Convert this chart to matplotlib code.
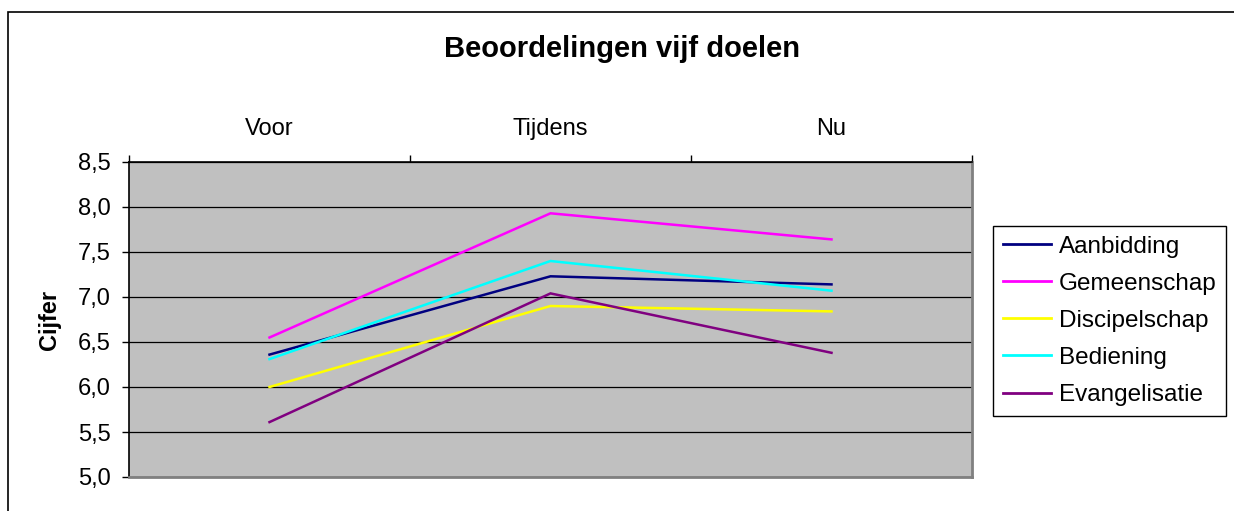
import matplotlib
matplotlib.use("Agg")
import matplotlib.pyplot as plt
from matplotlib.patches import Rectangle
from matplotlib.ticker import FuncFormatter, FixedLocator

plt.rcParams['font.family'] = ['Liberation Sans', 'DejaVu Sans']

categories = ["Voor", "Tijdens", "Nu"]
series_names = ["Aanbidding", "Gemeenschap", "Discipelschap", "Bediening", "Evangelisatie"]
aanbidding = [6.36, 7.23, 7.14]
gemeenschap = [6.55, 7.93, 7.64]
discipelschap = [6.00, 6.90, 6.84]
bediening = [6.31, 7.40, 7.07]
evangelisatie = [5.61, 7.04, 6.38]
colors = ["#000080", "#FF00FF", "#FFFF00", "#00FFFF", "#800080"]
yticks = [5.0, 5.5, 6.0, 6.5, 7.0, 7.5, 8.0, 8.5]

W, H = 1234, 511
fig = plt.figure(figsize=(W / 100, H / 100), dpi=100)
ax = fig.add_axes([129 / W, 1 - 477 / H, (972 - 129) / W, (477 - 162) / H])
ax.set_facecolor("#C0C0C0")

x = list(range(len(categories)))
for name, vals, c in zip(series_names,
                         [aanbidding, gemeenschap, discipelschap, bediening, evangelisatie],
                         colors):
    ax.plot(x, vals, color=c, lw=1.8, label=name, solid_joinstyle='miter', zorder=3)

ax.set_xlim(-0.5, len(categories) - 0.5)
ax.set_ylim(yticks[0], yticks[-1])
ax.set_yticks(yticks)
ax.yaxis.set_major_formatter(FuncFormatter(lambda v, p: f"{v:.1f}".replace(".", ",")))
ax.grid(axis='y', color='black', lw=0.9, zorder=1)
ax.set_axisbelow(True)

ax.xaxis.tick_top()
ax.xaxis.set_major_locator(FixedLocator([i - 0.5 for i in range(len(categories) + 1)]))
ax.xaxis.set_major_formatter(FuncFormatter(lambda v, p: ""))
ax.xaxis.set_minor_locator(FixedLocator(x))
ax.set_xticklabels(categories, minor=True)
ax.tick_params(axis='x', which='major', direction='out', length=5, width=1, top=True, bottom=False)
ax.tick_params(axis='x', which='minor', length=0, pad=16, labelsize=17, top=True, bottom=False)
ax.tick_params(axis='y', direction='out', length=5, width=1, pad=8, labelsize=17)

for s in ['left', 'top']:
    ax.spines[s].set_color('black')
    ax.spines[s].set_linewidth(1.2)
for s in ['right', 'bottom']:
    ax.spines[s].set_color('#808080')
    ax.spines[s].set_linewidth(2)

ax.set_ylabel("Cijfer", fontsize=17, fontweight='bold', labelpad=12)

fig.text(622 / W, 1 - 49 / H, "Beoordelingen vijf doelen", ha='center', va='center',
         fontsize=21, fontweight='bold')

leg = ax.legend(loc='upper left', bbox_to_anchor=(993 / W, 1 - 226 / H),
                bbox_transform=fig.transFigure, borderaxespad=0, fancybox=False,
                edgecolor='black', framealpha=1, fontsize=17.5, handlelength=2.0,
                handletextpad=0.3, labelspacing=0.62, borderpad=0.4)
leg.get_frame().set_linewidth(1.0)
for l in leg.get_lines():
    l.set_linewidth(2)

fig.patches.append(Rectangle((8 / W, -0.1), 2.0, 1.1 - 12 / H, transform=fig.transFigure,
                             fill=False, edgecolor='black', lw=1.2))

fig.savefig("out.png", dpi=100)
